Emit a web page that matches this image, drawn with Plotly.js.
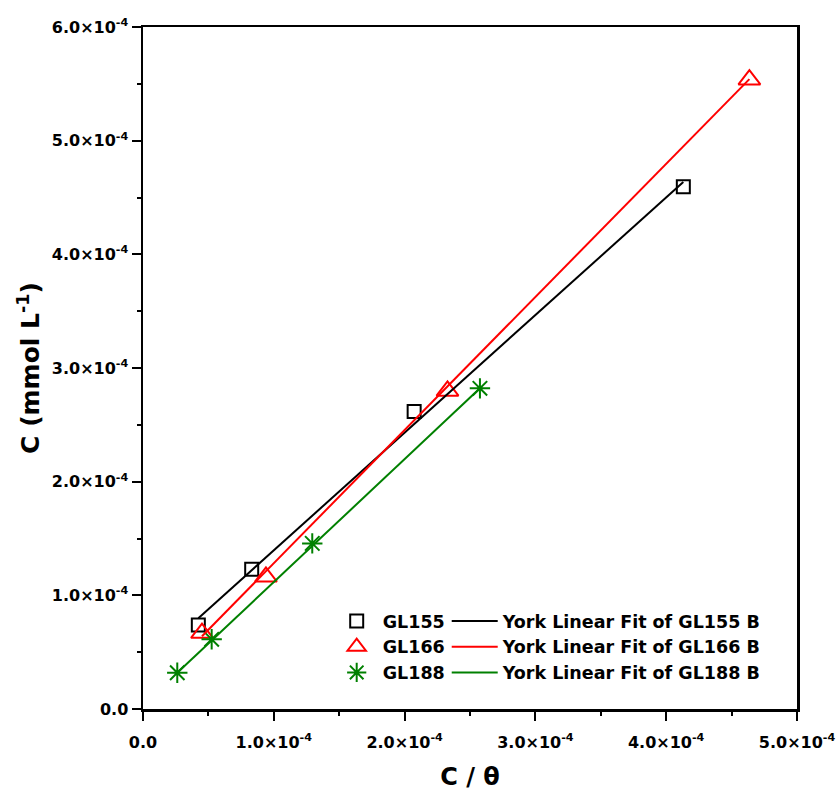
<!DOCTYPE html>
<html><head><meta charset="utf-8">
<script src="https://cdn.plot.ly/plotly-3.0.1.min.js"></script>
<style>html,body{margin:0;padding:0;background:#fff}</style>
</head><body><div id="chart" style="width:838px;height:791px"></div>
<script>
// Measured data (C/θ vs C)
const gl155X = [0.423e-4, 0.831e-4, 2.073e-4, 4.131e-4];
const gl155Y = [0.739e-4, 1.229e-4, 2.618e-4, 4.594e-4];
const gl166X = [0.451e-4, 0.940e-4, 2.328e-4, 4.636e-4];
const gl166Y = [0.668e-4, 1.163e-4, 2.798e-4, 5.537e-4];
const gl188X = [0.262e-4, 0.525e-4, 1.294e-4, 2.576e-4];
const gl188Y = [0.319e-4, 0.613e-4, 1.457e-4, 2.821e-4];
// York linear fit lines (endpoints)
const fit155X = [0.423e-4, 4.131e-4];
const fit155Y = [0.799e-4, 4.636e-4];
const fit166X = [0.451e-4, 4.636e-4];
const fit166Y = [0.640e-4, 5.541e-4];
const fit188X = [0.262e-4, 2.576e-4];
const fit188Y = [0.319e-4, 2.821e-4];
const seriesNames = ['GL155', 'GL166', 'GL188'];
const fitNames = ['York Linear Fit of GL155 B', 'York Linear Fit of GL166 B', 'York Linear Fit of GL188 B'];
// Ticks
const xTickVals = [0, 1e-4, 2e-4, 3e-4, 4e-4, 5e-4];
const xTickText = ['0.0', '1.0×10<sup>-4</sup>', '2.0×10<sup>-4</sup>', '3.0×10<sup>-4</sup>', '4.0×10<sup>-4</sup>', '5.0×10<sup>-4</sup>'];
const xMinorVals = [0.5e-4, 1.5e-4, 2.5e-4, 3.5e-4, 4.5e-4];
const yTickVals = [0, 1e-4, 2e-4, 3e-4, 4e-4, 5e-4, 6e-4];
const yTickText = ['0.0', '1.0×10<sup>-4</sup>', '2.0×10<sup>-4</sup>', '3.0×10<sup>-4</sup>', '4.0×10<sup>-4</sup>', '5.0×10<sup>-4</sup>', '6.0×10<sup>-4</sup>'];
const yMinorVals = [0.5e-4, 1.5e-4, 2.5e-4, 3.5e-4, 4.5e-4, 5.5e-4];

const FONT = 'DejaVu Sans, Arial, sans-serif';
const colors = ['#000000', '#ff0000', '#008000'];

const traces = [
  {x: gl155X, y: gl155Y, name: seriesNames[0], mode: 'markers', type: 'scatter', legend: 'legend',
   marker: {symbol: 'square-open', size: 13, color: colors[0], line: {width: 2, color: colors[0]}}},
  {x: gl166X, y: gl166Y, name: seriesNames[1], mode: 'markers', type: 'scatter', legend: 'legend',
   marker: {symbol: 'triangle-up-open', size: 19, color: colors[1], line: {width: 2, color: colors[1]}}},
  {x: gl188X, y: gl188Y, name: seriesNames[2], mode: 'markers', type: 'scatter', legend: 'legend',
   marker: {symbol: 'asterisk-open', size: 17, color: colors[2], line: {width: 2, color: colors[2]}}},
  {x: fit155X, y: fit155Y, name: fitNames[0], mode: 'lines', type: 'scatter', legend: 'legend2',
   line: {color: colors[0], width: 2}},
  {x: fit166X, y: fit166Y, name: fitNames[1], mode: 'lines', type: 'scatter', legend: 'legend2',
   line: {color: colors[1], width: 2}},
  {x: fit188X, y: fit188Y, name: fitNames[2], mode: 'lines', type: 'scatter', legend: 'legend2',
   line: {color: colors[2], width: 2}}
];

const axisCommon = {
  showgrid: false, zeroline: false, showline: true, linecolor: '#000', linewidth: 2.5,
  mirror: true, ticks: 'outside', ticklen: 9, tickwidth: 2, tickcolor: '#000',
  tickmode: 'array',
  tickfont: {family: FONT, size: 16, color: '#000', weight: 'bold'}
};

const layout = {
  width: 838, height: 791,
  margin: {l: 143, r: 41, t: 27, b: 82, pad: 0},
  paper_bgcolor: '#fff', plot_bgcolor: '#fff',
  showlegend: true,
  xaxis: Object.assign({}, axisCommon, {
    range: [0, 5e-4], tickvals: xTickVals, ticktext: xTickText, ticklabelstandoff: 8,
    minor: {tickmode: 'array', tickvals: xMinorVals, ticks: 'outside', ticklen: 4, tickwidth: 2, tickcolor: '#000'},
    title: {text: 'C / θ', font: {family: FONT, size: 24, color: '#000', weight: 'bold'}, standoff: 34}
  }),
  yaxis: Object.assign({}, axisCommon, {
    range: [0, 6e-4], tickvals: yTickVals, ticktext: yTickText,
    minor: {tickmode: 'array', tickvals: yMinorVals, ticks: 'outside', ticklen: 4, tickwidth: 2, tickcolor: '#000'},
    title: {text: 'C (mmol L<sup>-1</sup>)', font: {family: FONT, size: 25, color: '#000', weight: 'bold'}, standoff: 5}
  }),
  legend: {x: 0.287, y: 0.1554, xanchor: 'left', yanchor: 'top', bgcolor: 'rgba(0,0,0,0)', borderwidth: 0,
    font: {family: FONT, size: 17.5, color: '#000', weight: 'bold'}, itemwidth: 42, tracegroupgap: 0, traceorder: 'normal'},
  legend2: {x: 0.4644, y: 0.1554, xanchor: 'left', yanchor: 'top', bgcolor: 'rgba(0,0,0,0)', borderwidth: 0,
    font: {family: FONT, size: 17.5, color: '#000', weight: 'bold'}, itemwidth: 46, tracegroupgap: 0, traceorder: 'normal'}
};

Plotly.newPlot('chart', traces, layout, {displayModeBar: false, staticPlot: true});
</script></body></html>
